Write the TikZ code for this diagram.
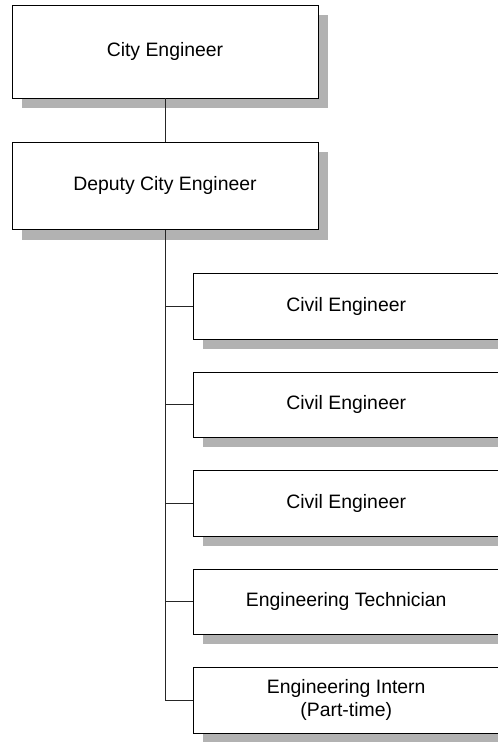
\documentclass[tikz,border=0pt]{standalone}
\usepackage{fontspec}
\setmainfont{Liberation Sans}
\usetikzlibrary{shadows}
\definecolor{shadowgray}{RGB}{178,178,178}
\begin{document}
\begin{tikzpicture}[x=1pt,y=-1pt,
  box/.style={draw=black, line width=0.9pt, fill=white, rectangle, inner sep=0pt,
    align=center, font=\fontsize{19.4}{22.5}\selectfont,
    drop shadow={shadow xshift=10pt, shadow yshift=-10pt, fill=shadowgray, opacity=1}},
  topbox/.style={box, minimum width=306pt},
  subbox/.style={box, minimum width=306.5pt, minimum height=65.5pt},
  link/.style={draw=black!85, line width=0.9pt}]
\useasboundingbox (0,0) rectangle (498,742);
\clip (0,0) rectangle (498,742);

% top of the chart
\node[topbox, minimum height=93pt] (ce) at (165,51.5) {City Engineer};
\node[topbox, minimum height=87.5pt] (dce) at (165,185.75) {Deputy City Engineer};

% staff reporting to the deputy
\node[subbox] (civ1) at (346.25,306.2) {Civil Engineer};
\node[subbox] (civ2) at (346.25,404.7) {Civil Engineer};
\node[subbox] (civ3) at (346.25,503.2) {Civil Engineer};
\node[subbox] (tech) at (346.25,601.7) {Engineering Technician};
\node[subbox] (intern) at (346.25,700.2) {Engineering Intern\\(Part-time)};

% connectors
\draw[link] (ce.south) -- (dce.north);
\draw[link] (dce.south) |- (intern.west);
\foreach \n in {civ1,civ2,civ3,tech}
  \draw[link] (dce.south |- \n.west) -- (\n.west);
\end{tikzpicture}
\end{document}
